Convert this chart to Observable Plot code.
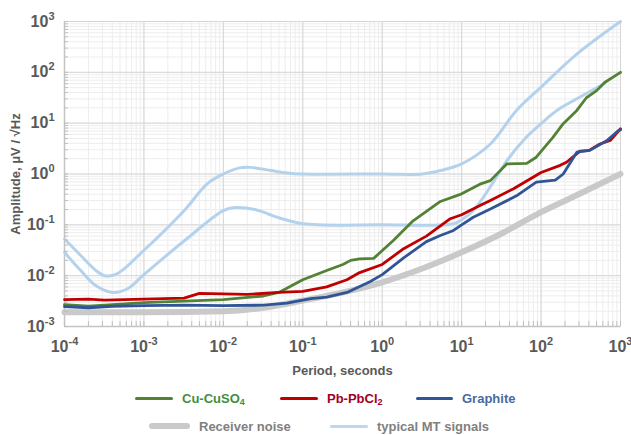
<!DOCTYPE html>
<html><head><meta charset="utf-8">
<script src="https://cdn.jsdelivr.net/npm/d3@7"></script>
<script src="https://cdn.jsdelivr.net/npm/@observablehq/plot@0.6"></script>
<style>
body{margin:0;background:#fff;font-family:"Liberation Sans",Arial,sans-serif;}
#wrap{position:relative;width:631px;height:435px;overflow:hidden;}
.leg{position:absolute;height:16px;font-weight:bold;font-size:13px;display:flex;align-items:center;white-space:nowrap;}
.sw{display:inline-block;margin-right:9px;}
.sub{font-size:9px;position:relative;top:2px;}
</style></head><body>
<div id="wrap"><div id="chart"></div></div>
<script>
// ----- data (period in seconds, amplitude in µV/√Hz) -----
const xTicks = [1e-4, 1e-3, 1e-2, 1e-1, 1, 10, 100, 1000];
const xTickExps = ["-4", "-3", "-2", "-1", "0", "1", "2", "3"];
const yTicks = [1e-3, 1e-2, 1e-1, 1, 10, 100, 1000];
const yTickExps = ["-3", "-2", "-1", "0", "1", "2", "3"];

const cuPeriod = [1e-4, 2e-4, 3.2e-4, 1e-3, 3.2e-3, 0.01, 0.032, 0.05, 0.1, 0.2, 0.32, 0.4, 0.52, 0.78, 1.38, 2.45, 5.4, 10, 17, 23, 37, 66, 87, 141, 190, 282, 372, 501, 631, 1000];
const cuAmp    = [0.00269, 0.0025, 0.00263, 0.00295, 0.00316, 0.00339, 0.00398, 0.00468, 0.0083, 0.0126, 0.0166, 0.02, 0.0214, 0.0219, 0.049, 0.12, 0.288, 0.407, 0.631, 0.741, 1.58, 1.62, 2.14, 5.25, 9.77, 17.8, 31.6, 43.7, 63.1, 100];

const pbPeriod = [1e-4, 2e-4, 3.2e-4, 1e-3, 3.2e-3, 5e-3, 0.01, 0.02, 0.05, 0.1, 0.126, 0.2, 0.36, 0.52, 1, 1.86, 3.6, 7.2, 10, 17, 23, 45, 100, 174, 209, 309, 398, 550, 741, 1000];
const pbAmp    = [0.00339, 0.00347, 0.00331, 0.00347, 0.00363, 0.00447, 0.00437, 0.00427, 0.00468, 0.0049, 0.00525, 0.006, 0.0083, 0.0115, 0.0166, 0.034, 0.06, 0.132, 0.158, 0.24, 0.302, 0.513, 1.07, 1.48, 1.7, 2.82, 2.88, 3.89, 4.57, 7.76];

const grPeriod = [1e-4, 2e-4, 4e-4, 1e-3, 3.2e-3, 0.01, 0.032, 0.063, 0.126, 0.2, 0.36, 0.7, 1, 1.86, 3.6, 5.4, 7.9, 10, 14, 23, 49, 87, 151, 190, 282, 417, 676, 933, 1000];
const grAmp    = [0.00245, 0.00234, 0.0025, 0.00257, 0.00263, 0.00257, 0.00263, 0.00288, 0.00355, 0.0038, 0.00468, 0.0076, 0.0105, 0.0224, 0.0468, 0.0617, 0.0776, 0.1, 0.141, 0.204, 0.372, 0.692, 0.759, 1, 2.69, 2.95, 4.57, 7.08, 7.41];

const noisePeriod = [1e-4, 1e-3, 0.01, 0.032, 0.1, 0.32, 1, 3.2, 10, 32, 100, 316, 1000];
const noiseAmp    = [0.0019, 0.0019, 0.002, 0.00234, 0.00324, 0.00468, 0.0074, 0.0138, 0.0288, 0.0676, 0.178, 0.417, 1];

const mtHighPeriod = [1e-4, 1.6e-4, 2.5e-4, 3.2e-4, 4.5e-4, 1e-3, 3.2e-3, 6.3e-3, 0.01, 0.016, 0.022, 0.04, 0.063, 0.1, 1, 3.2, 5.4, 10, 23, 49, 100, 282, 1000];
const mtHighAmp    = [0.0525, 0.025, 0.0126, 0.01, 0.0107, 0.0316, 0.19, 0.646, 1, 1.32, 1.35, 1.17, 1.05, 1, 1, 1, 1.17, 1.58, 3.89, 17.8, 51.3, 229, 1000];

const mtLowPeriod = [1e-4, 1.6e-4, 2.5e-4, 4e-4, 6.3e-4, 1e-3, 3.2e-3, 0.01, 0.014, 0.025, 0.05, 0.1, 1, 7.9, 10, 14, 23, 37, 63, 100, 158, 282, 631];
const mtLowAmp    = [0.0288, 0.0126, 0.0063, 0.00468, 0.0056, 0.0105, 0.048, 0.19, 0.219, 0.2, 0.138, 0.105, 0.1, 0.105, 0.126, 0.19, 0.562, 1.82, 5.01, 9.77, 17.8, 30.2, 60.3];

const seriesNames = ["Cu-CuSO4", "Pb-PbCl2", "Graphite", "Receiver noise", "typical MT signals"];

// ----- build -----
const toRows = (ps, as) => ps.map((p, i) => ({p, a: as[i]}));
const cu = toRows(cuPeriod, cuAmp), pb = toRows(pbPeriod, pbAmp), gr = toRows(grPeriod, grAmp);
const noise = toRows(noisePeriod, noiseAmp), mtHigh = toRows(mtHighPeriod, mtHighAmp), mtLow = toRows(mtLowPeriod, mtLowAmp);

const minorX = d3.scaleLog().domain([1e-4, 1e3]).ticks();
const minorY = d3.scaleLog().domain([1e-3, 1e3]).ticks();

const FONT = '"Liberation Sans", Arial, sans-serif';
const TXT = "#595959";

const chart = Plot.plot({
  width: 631, height: 380,
  marginLeft: 64, marginRight: 11, marginTop: 21, marginBottom: 54,
  x: {type: "log", domain: [1e-4, 1e3], label: null},
  y: {type: "log", domain: [1e-3, 1e3], label: null},
  style: {fontFamily: FONT, background: "white"},
  marks: [
    Plot.gridX(minorX, {stroke: "#ededed", strokeOpacity: 1}),
    Plot.gridY(minorY, {stroke: "#ededed", strokeOpacity: 1}),
    Plot.gridX(xTicks, {stroke: "#d6d6d6", strokeOpacity: 1}),
    Plot.gridY(yTicks, {stroke: "#d6d6d6", strokeOpacity: 1}),
    Plot.frame({stroke: "#d6d6d6"}),
    Plot.ruleY([1e-3], {stroke: "#c4c4c4", strokeWidth: 1.5}),
    Plot.ruleX([1e-4], {stroke: "#c4c4c4", strokeWidth: 1.5}),
    Plot.line(noise, {x: "p", y: "a", stroke: "#c9c9c9", strokeWidth: 6, curve: "monotone-x"}),
    Plot.line(mtHigh, {x: "p", y: "a", stroke: "#b4d2ec", strokeWidth: 3, curve: "catmull-rom"}),
    Plot.line(mtLow, {x: "p", y: "a", stroke: "#b4d2ec", strokeWidth: 3, curve: "catmull-rom"}),
    Plot.line(cu, {x: "p", y: "a", stroke: "#548235", strokeWidth: 2.8, strokeLinejoin: "round"}),
    Plot.line(pb, {x: "p", y: "a", stroke: "#c00000", strokeWidth: 2.8, strokeLinejoin: "round"}),
    Plot.line(gr, {x: "p", y: "a", stroke: "#2f5597", strokeWidth: 2.8, strokeLinejoin: "round"}),
    Plot.axisX(minorX, {tickSize: -5, tickFormat: () => "", stroke: "#bfbfbf", label: null}),
    Plot.axisY(minorY, {tickSize: -4, tickFormat: () => "", stroke: "#bfbfbf", label: null}),
    Plot.axisX(xTicks, {tickSize: 0, tickPadding: 14, label: null,
      tickFormat: d => "10^" + xTickExps[xTicks.indexOf(d)],
      fontSize: 16, fontWeight: "bold", fill: TXT}),
    Plot.axisY(yTicks, {tickSize: 0, tickPadding: 10, label: null,
      tickFormat: d => "10^" + yTickExps[yTicks.indexOf(d)],
      fontSize: 16, fontWeight: "bold", fill: TXT}),
    Plot.text(["Period, seconds"], {frameAnchor: "bottom", dy: 44, lineAnchor: "middle", textAnchor: "middle",
      fontSize: 13, fontWeight: "bold", fill: TXT}),
    Plot.text(["Amplitude, μV / √Hz"], {frameAnchor: "left", dx: -49, rotate: -90, lineAnchor: "middle", textAnchor: "middle",
      fontSize: 13, fontWeight: "bold", fill: TXT})
  ]
});

// superscript exponents on tick labels
const NS = "http://www.w3.org/2000/svg";
chart.querySelectorAll("text").forEach(t => {
  const s = t.textContent;
  if (/^10\^/.test(s)) {
    const exp = s.slice(3);
    t.textContent = "10";
    const sup = document.createElementNS(NS, "tspan");
    sup.setAttribute("dy", "-7");
    sup.setAttribute("font-size", "11");
    sup.textContent = exp;
    t.appendChild(sup);
  }
});
document.getElementById("chart").appendChild(chart);

// ----- legend -----
const legendItems = [
  {name: seriesNames[0], html: 'Cu-CuSO<span class="sub">4</span>', color: "#548235", text: "#3f8f44", left: 135, top: 390, w: 38, h: 3},
  {name: seriesNames[1], html: 'Pb-PbCl<span class="sub">2</span>', color: "#c00000", text: "#a3001e", left: 280, top: 390, w: 38, h: 3},
  {name: seriesNames[2], html: 'Graphite', color: "#2f5597", text: "#4a6a9c", left: 416, top: 390, w: 37, h: 3},
  {name: seriesNames[3], html: 'Receiver noise', color: "#c9c9c9", text: "#7f7f7f", left: 149, top: 418, w: 41, h: 6},
  {name: seriesNames[4], html: 'typical MT signals', color: "#bdd7ee", text: "#7f7f7f", left: 330, top: 418, w: 38, h: 3}
];
const wrap = document.getElementById("wrap");
legendItems.forEach(it => {
  const d = document.createElement("div");
  d.className = "leg";
  d.style.left = it.left + "px";
  d.style.top = it.top + "px";
  d.style.color = it.text;
  d.innerHTML = `<span class="sw" style="width:${it.w}px;height:${it.h}px;background:${it.color};border-radius:${it.h/2}px"></span><span>${it.html}</span>`;
  wrap.appendChild(d);
});
</script>
</body></html>
